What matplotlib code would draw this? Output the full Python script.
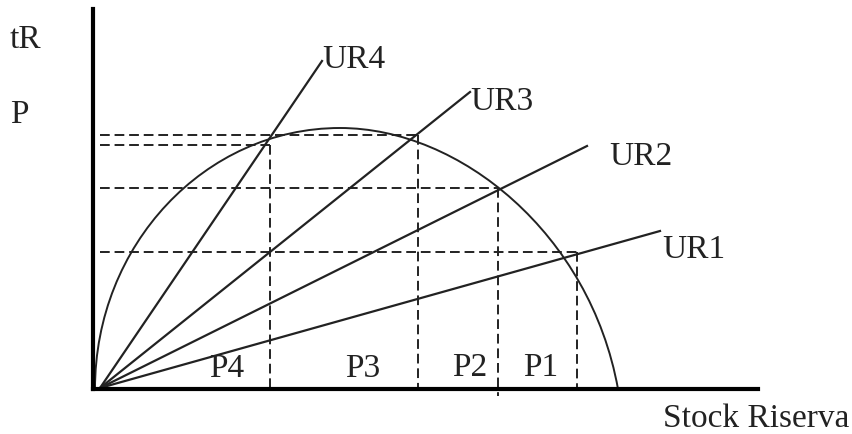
import matplotlib
matplotlib.use("Agg")
import matplotlib.pyplot as plt
from matplotlib.path import Path
from matplotlib.patches import PathPatch

# rays UR1..UR4: common origin and end points
ray_labels = ["UR1", "UR2", "UR3", "UR4"]
ray_origin = (7, 1)
ray_end_x = [567, 494, 377, 229]
ray_end_y = [158, 243, 297, 328]

# where each ray meets the curve (corners of the dashed lines)
corner_x = [484, 405, 325, 177]
corner_y = [137, 201, 254, 244]
corner_drop = [0, -7, 0, 0]

# growth curve (two cubic bezier pieces)
curve_x = [2, 2, 112, 247, 367, 497, 525]
curve_y = [0, 144, 261, 261, 261, 155, 0]

# label texts
ray_label_x = [569, 516, 377, 229]
ray_label_y = [132, 225, 280, 322]
zone_labels = ["P1", "P2", "P3", "P4"]
zone_x = [448, 377, 270, 134]
zone_y = [14, 14, 13, 13]

plt.rcParams['font.family'] = ['Liberation Serif', 'DejaVu Serif']

fig = plt.figure(figsize=(8.53, 4.35), dpi=100)
ax = fig.add_axes([0, 0, 1, 1])
ax.set_xlim(-93, 760)
ax.set_ylim(-45, 390)

# axes lines
for s in ["top", "right"]:
    ax.spines[s].set_visible(False)
ax.spines["left"].set_position(("data", 0))
ax.spines["bottom"].set_position(("data", 0))
ax.spines["left"].set_bounds(0, 380)
ax.spines["bottom"].set_bounds(0, 665)
ax.spines["left"].set_linewidth(3)
ax.spines["bottom"].set_linewidth(3)
ax.set_xticks([])
ax.set_yticks([])

# curve
verts = list(zip(curve_x, curve_y))
codes = [Path.MOVETO] + [Path.CURVE4] * 6
ax.add_patch(PathPatch(Path(verts, codes), fill=False, lw=1.4, color="#222222"))

# rays
for i in range(len(ray_labels)):
    ax.plot([ray_origin[0], ray_end_x[i]], [ray_origin[1], ray_end_y[i]],
            color="#222222", lw=1.6)
    ax.text(ray_label_x[i], ray_label_y[i], ray_labels[i], fontsize=24,
            ha="left", va="baseline", color="#222222")

# dashed projections
for i in range(len(corner_x)):
    ax.plot([ray_origin[0], corner_x[i]], [corner_y[i], corner_y[i]],
            color="#222222", lw=1.4, ls=(0, (5, 2.5)))
    ax.plot([corner_x[i], corner_x[i]], [corner_y[i], corner_drop[i]],
            color="#222222", lw=1.4, ls=(0, (5, 2.5)))

for i in range(len(zone_labels)):
    ax.text(zone_x[i], zone_y[i], zone_labels[i], fontsize=24,
            ha="center", va="baseline", color="#222222")

ax.text(-83, 342, "tR", fontsize=24, ha="left", va="baseline", color="#222222")
ax.text(-83, 267, "P", fontsize=24, ha="left", va="baseline", color="#222222")
ax.text(570, -37, "Stock Riserva", fontsize=24, ha="left", va="baseline", color="#222222")

fig.savefig("out.png", dpi=100)
